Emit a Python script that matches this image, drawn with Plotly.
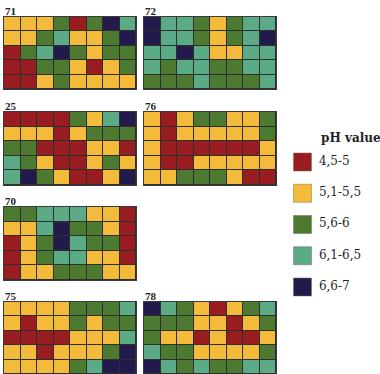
import plotly.graph_objects as go

# pH classes (legend)
ph_labels = ["4,5-5", "5,1-5,5", "5,6-6", "6,1-6,5", "6,6-7"]
ph_colors = ["#981c20", "#f4bb3a", "#4b7a30", "#5aab86", "#221a4d"]

# panel names and grids (rows top->bottom, class index 1..5 per cell)
panel_names = ["71", "72", "25", "76", "70", "75", "78"]
grid_71 = ["22231354", "22342235", "13453233", "11332123", "11232222"]
grid_72 = ["54432344", "54432345", "44542244", "43443344", "33343334"]
grid_25 = ["11113245", "22212333", "33111221", "43211232", "45321125"]
grid_76 = ["21233223", "21222223", "21111112", "21122222", "22333211"]
grid_70 = ["33444221", "22453321", "12354331", "12344221", "12233322"]
grid_75 = ["22223334", "21223233", "11112224", "22122235", "22223455"]
grid_78 = ["54321234", "33322123", "32212112", "43322223", "54343344"]
grids = [grid_71, grid_72, grid_25, grid_76, grid_70, grid_75, grid_78]

W, H = 380, 374
# panel boxes in pixels: (left, right, top, bottom)
boxes = [(4, 136, 17, 89), (144, 276, 17, 89),
         (4, 136, 112, 185), (144, 276, 112, 185),
         (4, 136, 207, 280),
         (4, 136, 302, 374), (144, 276, 302, 374)]

# discrete colorscale
cs = []
n = len(ph_colors)
for i, c in enumerate(ph_colors):
    cs.append([i / n, c])
    cs.append([(i + 1) / n, c])

fig = go.Figure()
layout = {}
annotations = []
shapes = []
for k, (name, g, box) in enumerate(zip(panel_names, grids, boxes)):
    z = [[int(ch) for ch in row] for row in g]
    ax = "" if k == 0 else str(k + 1)
    fig.add_trace(go.Heatmap(
        z=z, zmin=0.5, zmax=5.5, colorscale=cs, showscale=False,
        xgap=1, ygap=1, xaxis="x" + ax, yaxis="y" + ax, hoverinfo="skip"))
    l, r, t, b = box
    common = dict(showgrid=False, zeroline=False, showticklabels=False,
                  ticks="", showline=True, mirror=True, linecolor="#3a3a3a",
                  linewidth=1)
    layout["xaxis" + ax] = dict(domain=[l / W, r / W], range=[-0.5, 7.5],
                                anchor="y" + ax, **common)
    layout["yaxis" + ax] = dict(domain=[1 - b / H, 1 - t / H], range=[4.5, -0.5],
                                anchor="x" + ax, **common)
    # dark background showing through the cell gaps
    shapes.append(dict(type="rect", xref="x" + ax, yref="y" + ax,
                       x0=-0.5, x1=7.5, y0=-0.5, y1=4.5, layer="below",
                       fillcolor="#2e2e2e", line=dict(width=0)))
    annotations.append(dict(text="<b>" + name + "</b>", x=l / W, y=1 - t / H,
                            xref="paper", yref="paper", xanchor="left",
                            yanchor="bottom", showarrow=False, yshift=-2,
                            xshift=-1,
                            font=dict(family="Liberation Serif", size=11,
                                      color="#222222")))

# legend drawn as its own small axis
idx = list(range(len(ph_labels)))
lg_top, lg_bot = 146.4, 302.6
fig.add_trace(go.Scatter(
    x=[0.15] * len(idx), y=idx, mode="markers",
    marker=dict(symbol="square", size=18, color=ph_colors,
                line=dict(color="#7a6a50", width=0.5)),
    xaxis="x8", yaxis="y8", hoverinfo="skip", showlegend=False))
fig.add_trace(go.Scatter(
    x=[0.33] * len(idx), y=idx, mode="text", text=ph_labels,
    textposition="middle right",
    textfont=dict(family="DejaVu Serif", size=12, color="#1e1e2a"),
    xaxis="x8", yaxis="y8", hoverinfo="skip", showlegend=False))
hid = dict(showgrid=False, zeroline=False, showticklabels=False, ticks="",
           showline=False)
layout["xaxis8"] = dict(domain=[0.76, 1.0], range=[0, 1], anchor="y8", **hid)
layout["yaxis8"] = dict(domain=[1 - lg_bot / H, 1 - lg_top / H],
                        range=[4.5, -0.5], anchor="x8", **hid)
annotations.append(dict(text="<b>pH value</b>", x=319 / W, y=1 - 138 / H,
                        xref="paper", yref="paper", xanchor="left",
                        yanchor="middle", showarrow=False,
                        font=dict(family="DejaVu Serif", size=12,
                                  color="#1e1e2a")))

fig.update_layout(width=W, height=H, margin=dict(l=0, r=0, t=0, b=0),
                  paper_bgcolor="white", plot_bgcolor="white",
                  showlegend=False, annotations=annotations, shapes=shapes,
                  hovermode=False, **layout)
fig.write_html("out.html", config={"displayModeBar": False},
               post_script="document.body.style.margin='0';"
                           "document.documentElement.style.margin='0';")
